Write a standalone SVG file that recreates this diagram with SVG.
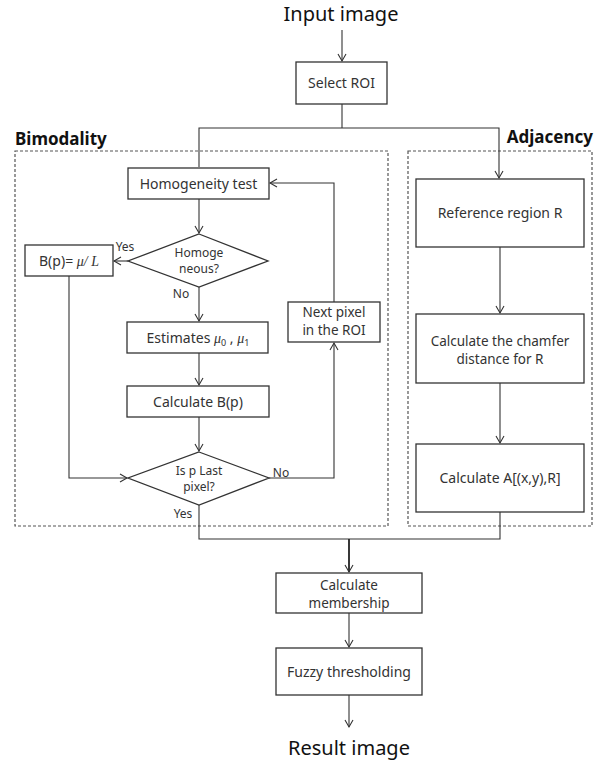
<svg xmlns="http://www.w3.org/2000/svg" width="602" height="761" viewBox="0 0 602 761">
<style>
.box{fill:#fff;stroke:#333;stroke-width:1.3}
.dash{fill:none;stroke:#555;stroke-width:1.2;stroke-dasharray:3,2}
.ln{fill:none;stroke:#333;stroke-width:1.1}
.t{font-family:"Noto Sans","Open Sans",sans-serif;font-size:14px;fill:#333;text-anchor:middle}
.t2{font-family:"Noto Sans","Open Sans",sans-serif;font-size:13.5px;fill:#333;text-anchor:middle}
.s{font-family:"Noto Sans","Open Sans",sans-serif;font-size:12px;fill:#333;text-anchor:middle}
.big{font-family:"Noto Sans","Open Sans",sans-serif;font-size:20px;fill:#111;text-anchor:middle}
.hdr{font-family:"Noto Sans","Open Sans",sans-serif;font-size:17px;font-weight:bold;fill:#111}
.m{font-family:"Liberation Serif",serif;font-style:italic}
</style>
<defs>
<marker id="arr" markerUnits="userSpaceOnUse" markerWidth="12" markerHeight="12" refX="8" refY="5" orient="auto">
<path d="M1,1 L8,5 L1,9" fill="none" stroke="#333" stroke-width="1.1"/>
</marker>
</defs>
<rect width="602" height="761" fill="#fff"/>

<g id="containers">
<rect class="dash" x="15" y="151" width="373" height="375"/>
<rect class="dash" x="408" y="151" width="184" height="375"/>
<text class="hdr" x="15" y="145">Bimodality</text>
<text class="hdr" x="593" y="143" text-anchor="end">Adjacency</text>
</g>

<g id="connectors">
<line class="ln" x1="342" y1="30" x2="342" y2="61" marker-end="url(#arr)"/>
<line class="ln" x1="342" y1="104" x2="342" y2="128"/>
<polyline class="ln" points="199,167 199,128 499,128 499,178" marker-end="url(#arr)"/>
<line class="ln" x1="199" y1="199" x2="199" y2="233" marker-end="url(#arr)"/>
<line class="ln" x1="128" y1="261" x2="114" y2="261" marker-end="url(#arr)"/>
<line class="ln" x1="199" y1="287" x2="199" y2="321" marker-end="url(#arr)"/>
<line class="ln" x1="199" y1="353" x2="199" y2="385" marker-end="url(#arr)"/>
<line class="ln" x1="199" y1="417" x2="199" y2="451" marker-end="url(#arr)"/>
<polyline class="ln" points="69,276 69,478 127,478" marker-end="url(#arr)"/>
<polyline class="ln" points="269,478 334,478 334,343" marker-end="url(#arr)"/>
<polyline class="ln" points="334,302 334,183 270,183" marker-end="url(#arr)"/>
<line class="ln" x1="500" y1="247" x2="500" y2="313" marker-end="url(#arr)"/>
<line class="ln" x1="500" y1="383" x2="500" y2="443" marker-end="url(#arr)"/>
<polyline class="ln" points="199,505 199,539 500,539 500,512"/>
<line x1="349" y1="539" x2="349" y2="572" stroke="#222" stroke-width="1.8" marker-end="url(#arr)"/>
<line class="ln" x1="349" y1="613" x2="349" y2="647" marker-end="url(#arr)"/>
<line class="ln" x1="349" y1="695" x2="349" y2="727" marker-end="url(#arr)"/>
<text class="s" x="125" y="251" font-size="11">Yes</text>
<text class="s" x="181" y="298" font-size="11">No</text>
<text class="s" x="281" y="477">No</text>
<text class="s" x="183" y="518">Yes</text>
</g>

<g id="input"><text class="big" x="341" y="21">Input image</text></g>

<g id="select-roi">
<rect class="box" x="296" y="62" width="91" height="42"/>
<text class="t" x="341.5" y="88" font-size="13">Select ROI</text>
</g>

<g id="homogeneity-test">
<rect class="box" x="128" y="168" width="141" height="31"/>
<text class="t" x="198.5" y="189">Homogeneity test</text>
</g>

<g id="homogeneous">
<polygon class="box" points="199,234 268,261 199,287 128,261"/>
<text class="s" x="199" y="257" font-size="13"><tspan x="199">Homoge</tspan><tspan x="199" dy="16">neous?</tspan></text>
</g>

<g id="bp-set">
<rect class="box" x="25" y="245" width="88" height="31"/>
<text class="t" x="69" y="266">B(p)= <tspan class="m">μ/ L</tspan></text>
</g>

<g id="estimates">
<rect class="box" x="127" y="322" width="141" height="31"/>
<text class="t" x="198" y="343">Estimates <tspan class="m">μ</tspan><tspan font-size="9" dy="3">0</tspan><tspan dy="-3"> , </tspan><tspan class="m">μ</tspan><tspan font-size="9" dy="3">1</tspan></text>
</g>

<g id="calc-bp">
<rect class="box" x="127" y="386" width="142" height="31"/>
<text class="t" x="198" y="407">Calculate B(p)</text>
</g>

<g id="last-pixel">
<polygon class="box" points="199,452 269,478 199,505 128,478"/>
<text class="s" x="199" y="475" font-size="13"><tspan x="199">Is p  Last</tspan><tspan x="199" dy="16">pixel?</tspan></text>
</g>

<g id="next-pixel">
<rect class="box" x="288" y="302" width="92" height="40"/>
<text class="t2" x="334" y="317"><tspan x="334">Next pixel</tspan><tspan x="334" dy="18">in the ROI</tspan></text>
</g>

<g id="reference-region">
<rect class="box" x="416" y="179" width="168" height="68"/>
<text class="t" x="500" y="218">Reference region R</text>
</g>

<g id="chamfer">
<rect class="box" x="416" y="314" width="168" height="69"/>
<text class="t2" x="500" y="346"><tspan x="500">Calculate the chamfer</tspan><tspan x="500" dy="18">distance for R</tspan></text>
</g>

<g id="calc-a">
<rect class="box" x="416" y="444" width="168" height="68"/>
<text class="t" x="500" y="483">Calculate A[(x,y),R]</text>
</g>

<g id="membership">
<rect class="box" x="276" y="573" width="146" height="40"/>
<text class="t2" x="349" y="590"><tspan x="349">Calculate</tspan><tspan x="349" dy="18">membership</tspan></text>
</g>

<g id="fuzzy">
<rect class="box" x="276" y="648" width="146" height="47"/>
<text class="t" x="349" y="677">Fuzzy thresholding</text>
</g>

<g id="result"><text class="big" x="349" y="755">Result image</text></g>
</svg>
